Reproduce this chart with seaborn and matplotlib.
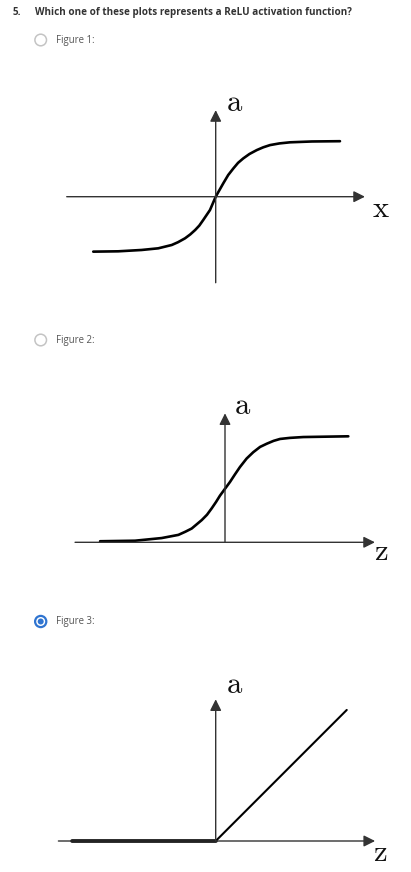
import numpy as np
import pandas as pd
import matplotlib.pyplot as plt
import matplotlib.patches as mpatches
import seaborn as sns

sns.set_style('white')
plt.rcParams['font.family'] = ['Open Sans', 'DejaVu Sans']
plt.rcParams['mathtext.fontset'] = 'cm'

W, H = 411, 872

# values (in each panel's own units)
tanh_z = [-4.71, -3.75, -2.85, -2.21, -1.69, -1.45, -1.18, -0.98, -0.79, -0.63, -0.48, -0.22, 0.0,
          0.29, 0.48, 0.68, 0.86, 1.06, 1.3, 1.58, 1.83, 2.09, 2.45, 2.86, 3.7, 4.78]
tanh_a = [-0.99, -0.984, -0.96, -0.93, -0.87, -0.82, -0.75, -0.68, -0.6, -0.52, -0.42, -0.24, 0.0,
          0.24, 0.39, 0.51, 0.61, 0.69, 0.77, 0.84, 0.89, 0.93, 0.96, 0.98, 0.995, 1.0]

sig_z = [-6.94, -5.0, -3.52, -2.59, -2.2, -1.85, -1.29, -1.0, -0.74, -0.5, -0.28, 0.0, 0.28,
         0.55, 0.83, 1.2, 1.57, 1.95, 2.32, 2.7, 3.06, 3.6, 4.35, 6.85]
sig_a = [0.01, 0.015, 0.04, 0.07, 0.1, 0.13, 0.21, 0.26, 0.32, 0.38, 0.44, 0.505, 0.57,
         0.64, 0.71, 0.79, 0.85, 0.9, 0.93, 0.957, 0.975, 0.985, 0.993, 1.0]

relu_z = [-5.54, 0.0, 5.04]
relu_a = [0.0, 0.0, 5.04]

question = "Which one of these plots represents a ReLU activation function?"
options = ["Figure 1:", "Figure 2:", "Figure 3:"]
axis_names = [("a", "x"), ("a", "z"), ("a", "z")]

fig = plt.figure(figsize=(W / 100, H / 100), dpi=100)
fig.patch.set_facecolor('white')

# overlay in pixel coords for the quiz text / radio buttons
ui = fig.add_axes([0, 0, 1, 1])
ui.set_xlim(0, W)
ui.set_ylim(H, 0)
ui.axis('off')

ui.text(13, 12.5, "5.", fontsize=7.1, fontweight='bold', color='#333333', va='center')
ui.text(35, 12.8, question, fontsize=7.1, fontweight='bold', color='#333333', va='center')

radio_y = [40, 340, 621.5]
for i, (label, y) in enumerate(zip(options, radio_y)):
    if i == 2:
        ui.add_patch(mpatches.Circle((40.7, y), 5.6, facecolor='white', edgecolor='#2f74d0', lw=1.6))
        ui.add_patch(mpatches.Circle((40.7, y), 3.0, facecolor='#2f74d0', edgecolor='none'))
    else:
        ui.add_patch(mpatches.Circle((40.7, y), 5.8, facecolor='white', edgecolor='#c4c4c4', lw=1.1))
    ui.text(55.5, y, label, fontsize=6.9, color='#555555', va='center')


def panel(box, origin, sx, sy):
    x0, y0, x1, y1 = box
    ox, oy = origin
    ax = fig.add_axes([x0 / W, 1 - y1 / H, (x1 - x0) / W, (y1 - y0) / H])
    ax.set_xlim((x0 - ox) / sx, (x1 - ox) / sx)
    ax.set_ylim((oy - y1) / sy, (oy - y0) / sy)
    ax.axis('off')
    ax.patch.set_alpha(0)
    return ax


def arrow(ax, start, tip):
    ax.annotate('', xy=tip, xytext=start,
                arrowprops=dict(arrowstyle='-|>', color='#333333', lw=1.0,
                                mutation_scale=17, shrinkA=0, shrinkB=0))


ax_label_kw = dict(fontsize=22, color='#111111', ha='center', va='center')

# Figure 1 - tanh
ax1 = panel((50, 85, 400, 300), (215.7, 196.7), 26, 55.5)
arrow(ax1, (-5.73, 0), (5.74, 0))
arrow(ax1, (0, -1.55), (0, 1.56))
sns.lineplot(x=tanh_z, y=tanh_a, ax=ax1, color='black', lw=1.9, estimator=None)
ui.text(235, 103, r'$\mathrm{' + axis_names[0][0] + '}$', **ax_label_kw)
ui.text(381, 209, r'$\mathrm{' + axis_names[0][1] + '}$', **ax_label_kw)

# Figure 2 - sigmoid
ax2 = panel((60, 390, 400, 570), (225, 542.3), 18, 106)
arrow(ax2, (-8.33, 0), (8.33, 0))
arrow(ax2, (0, 0), (0, 1.217))
sns.lineplot(x=sig_z, y=sig_a, ax=ax2, color='black', lw=1.9, estimator=None)
ui.text(243, 406, r'$\mathrm{' + axis_names[1][0] + '}$', **ax_label_kw)
ui.text(381.5, 552, r'$\mathrm{' + axis_names[1][1] + '}$', **ax_label_kw)

# Figure 3 - ReLU
ax3 = panel((50, 670, 400, 865), (215.7, 841), 26, 26)
arrow(ax3, (-6.05, 0), (6.13, 0))
arrow(ax3, (0, 0), (0, 5.45))
relu = pd.DataFrame({'z': relu_z, 'a': relu_a})
sns.lineplot(data=relu[relu.z <= 0], x='z', y='a', ax=ax3, color='black', lw=2.6, estimator=None)
sns.lineplot(data=relu[relu.z >= 0], x='z', y='a', ax=ax3, color='black', lw=1.5, estimator=None)
ui.text(235, 685, r'$\mathrm{' + axis_names[2][0] + '}$', **ax_label_kw)
ui.text(380, 853, r'$\mathrm{' + axis_names[2][1] + '}$', **ax_label_kw)

fig.savefig('out.png', dpi=100, facecolor='white')
